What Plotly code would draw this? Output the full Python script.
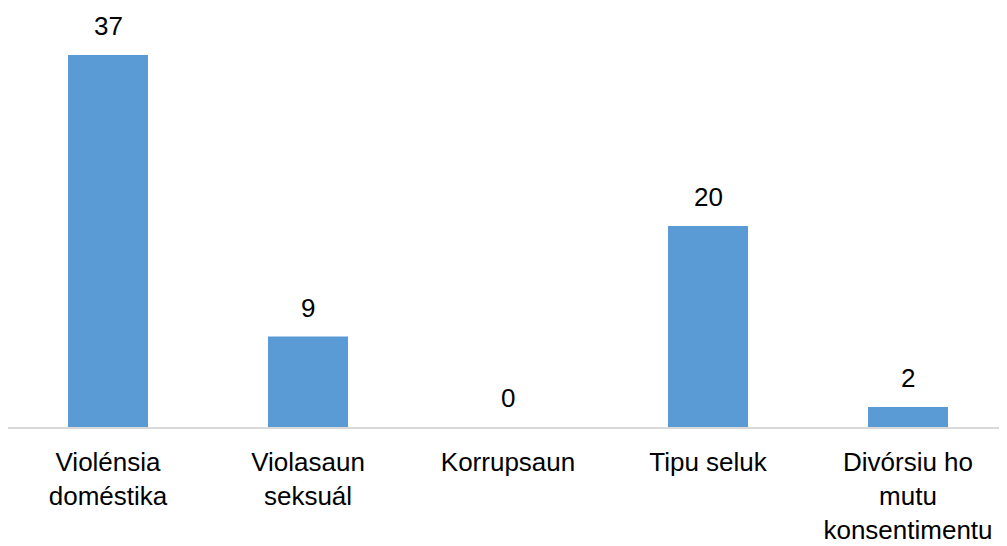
import plotly.graph_objects as go

categories = ["Violénsia<br>doméstika", "Violasaun<br>seksuál", "Korrupsaun", "Tipu seluk", "Divórsiu ho<br>mutu<br>konsentimentu"]
values = [37, 9, 0, 20, 2]

bar_color = "#5B9BD5"
font_family = "Liberation Sans, Arial, Helvetica, sans-serif"

fig = go.Figure()
fig.add_trace(go.Bar(x=categories, y=values, marker=dict(color=bar_color, line=dict(width=0)),
                     hoverinfo="skip"))

for c, v in zip(categories, values):
    fig.add_annotation(x=c, y=v, text=str(v), showarrow=False, yanchor="bottom",
                       yshift=12, font=dict(size=26, color="#000000", family=font_family))

fig.update_layout(
    width=1007, height=546,
    margin=dict(l=0, r=7, t=0, b=127),
    paper_bgcolor="white", plot_bgcolor="white",
    bargap=0.6,
    showlegend=False,
    font=dict(family=font_family, size=26, color="#000000"),
    xaxis=dict(showline=True, linecolor="#D9D9D9", linewidth=2, showgrid=False,
               ticks="", ticklabelstandoff=11, tickfont=dict(size=26, color="#000000")),
    yaxis=dict(range=[0, 41.67], visible=False, showgrid=False, zeroline=False),
)

fig.write_html("out.html")
